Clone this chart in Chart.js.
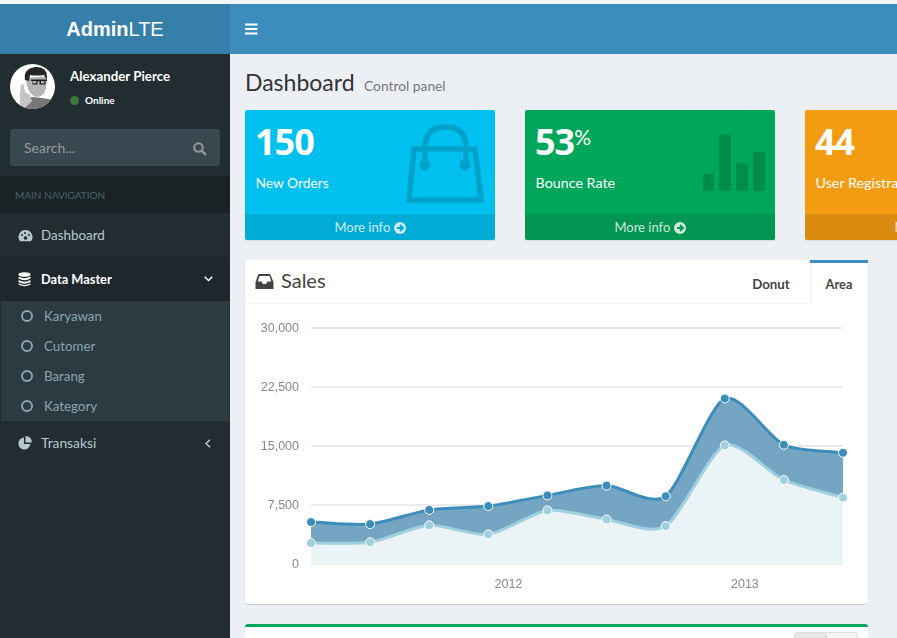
<!DOCTYPE html>
<html><head><meta charset="utf-8"><title>AdminLTE Dashboard</title>
<script src="https://cdn.jsdelivr.net/npm/chart.js@4/dist/chart.umd.min.js"></script>
<style>
html,body{margin:0;padding:0;width:897px;height:638px;overflow:hidden;background:#ecf0f5;font-family:Lato,"Noto Sans",sans-serif;}
.a{position:absolute;white-space:nowrap;}
.t{position:absolute;white-space:nowrap;line-height:20px;}
svg{position:absolute;overflow:visible;}
.card{position:absolute;top:110px;width:250px;height:130px;border-radius:2px;box-shadow:0 1px 1px rgba(0,0,0,.1);overflow:hidden;color:#fff;}
.card .foot{position:absolute;left:0;right:0;top:104px;height:26px;background:rgba(0,0,0,.1);color:rgba(255,255,255,.8);text-align:center;line-height:26px;font-size:13px;}
.card .num{position:absolute;left:10px;top:9px;font-family:"Noto Sans",sans-serif;font-size:36px;letter-spacing:-1px;font-weight:700;line-height:46px;}
.card .lab{position:absolute;left:10.500px;top:63px;font-size:13.800px;line-height:20px;}
.sub{color:#8aa4af;font-size:13.300px;}
.circ{position:absolute;left:21px;width:8px;height:8px;border:2px solid #8aa4af;border-radius:50%;}
</style></head><body>
<div class="a" style="left:0;top:0;width:897px;height:4px;background:#f4f5f6"></div>
<div class="a" style="left:0;top:4px;width:230px;height:50px;background:#367fa9"></div>
<div class="a" style="left:230px;top:4px;width:667px;height:50px;background:#3c8dbc"></div>
<div class="a" style="left:0;top:54px;width:230px;height:584px;background:#222d32"></div>
<div class="t" style="left:0;width:230px;text-align:center;top:19px;font:20px/20px 'Liberation Sans',sans-serif;color:#fff"><b>Admin</b>LTE</div>
<svg style="left:245px;top:23px" width="13" height="12"><path d="M0 1.5h12.5M0 6h12.5M0 10.500h12.500" stroke="#fff" stroke-width="2"/></svg>

<!-- user panel -->
<svg style="left:10px;top:64px" width="45" height="45" viewBox="0 0 45 45">
<clipPath id="av"><circle cx="22.500" cy="22.500" r="22.500"/></clipPath>
<circle cx="22.500" cy="22.500" r="22.500" fill="#fff"/>
<g clip-path="url(#av)">
<path d="M9 45 L14 35 L22 33 L32 34 L44 36 L44 45Z" fill="#777"/>
<path d="M10 42 L10 30 L11 21 L13.500 20 L15 28 L20 31 L22 37 L15 44Z" fill="#c4c4c4"/>
<path d="M16 14 Q17 30 26 33 Q34 33 36 24 L37 12 Z" fill="#b5b5b5"/>
<path d="M15 16 Q13 5 25 3 Q37 2 37 13 L37 16 L34 11 Q25 12 20 11 L19 17Z" fill="#262626"/>
<path d="M21 15.500h16v1.400h-1.500v3.600h-6v-3.300h-2v3.300h-5v-3.600h-1.500z" fill="#1c1c1c"/>
<path d="M23 17.200h3.300v2h-3.300zM31 17.200h3.300v2h-3.300z" fill="#c8c8c8"/>
</g></svg>
<div class="t" style="left:70px;top:66px;font-size:13.300px;font-weight:700;color:#fff">Alexander Pierce</div>
<div class="a" style="left:70px;top:96px;width:9px;height:9px;border-radius:50%;background:#3c763d"></div>
<div class="t" style="left:85px;top:90px;font-size:10px;font-weight:700;color:#fff">Online</div>

<div class="a" style="left:10px;top:129px;width:210px;height:37px;background:#374850;border-radius:3px"></div>
<div class="t" style="left:24px;top:138px;font-size:14px;color:#999">Search...</div>
<svg style="left:193px;top:142px" width="14" height="14"><circle cx="5.500" cy="5.500" r="4.300" fill="none" stroke="#999" stroke-width="2"/><path d="M8.800 8.800L13 13" stroke="#999" stroke-width="2.400"/></svg>

<div class="a" style="left:0;top:176px;width:230px;height:37px;background:#1a2226"></div>
<div class="t" style="left:15px;top:185px;font-size:10px;color:#4b646f">MAIN NAVIGATION</div>

<svg style="left:18px;top:229px" width="15" height="13" viewBox="0 0 15 13"><path d="M7.500 1A7 7 0 0 0 2 12.300L13 12.300A7 7 0 0 0 7.500 1Z" fill="#b8c7ce"/><circle cx="4" cy="6" r="1" fill="#222d32"/><circle cx="7" cy="4" r="1" fill="#222d32"/><circle cx="11" cy="6" r="1" fill="#222d32"/><circle cx="7.500" cy="9" r="1.800" fill="#222d32"/></svg>
<div class="t" style="left:41px;top:225px;font-size:13.400px;color:#b8c7ce">Dashboard</div>

<div class="a" style="left:0;top:257px;width:230px;height:44px;background:#1e282c"></div>
<svg style="left:18px;top:272px" width="13" height="15"><ellipse cx="6.500" cy="2.500" rx="6" ry="2.300" fill="#fff"/><path d="M.5 4.500Q6.500 8 12.500 4.500V6.500Q6.500 10 .5 6.500ZM.5 8Q6.500 11.500 12.500 8V10Q6.500 13.500 .5 10ZM.5 11.200Q6.500 14.700 12.500 11.200V12.500Q6.500 16 .5 12.500Z" fill="#fff"/></svg>
<div class="t" style="left:41px;top:269px;font-size:12.800px;font-weight:700;color:#fff">Data Master</div>
<svg style="left:204px;top:276px" width="9" height="6"><path d="M.7 .7L4.500 4.500L8.300 .7" fill="none" stroke="#fff" stroke-width="1.500"/></svg>

<div class="a" style="left:1px;top:301px;width:228px;height:120px;background:#2c3b41"></div>
<div class="circ" style="top:310px"></div><div class="t sub" style="left:44px;top:306px">Karyawan</div>
<div class="circ" style="top:340px"></div><div class="t sub" style="left:44px;top:336px">Cutomer</div>
<div class="circ" style="top:370px"></div><div class="t sub" style="left:44px;top:366px">Barang</div>
<div class="circ" style="top:400px"></div><div class="t sub" style="left:44px;top:396px">Kategory</div>

<svg style="left:18px;top:436px" width="14" height="14"><path d="M6 1.500A6 6 0 1 0 12.300 8H6Z" fill="#b8c7ce"/><path d="M7.500 0A6 6 0 0 1 13.800 6.500H7.500Z" fill="#b8c7ce"/></svg>
<div class="t" style="left:41px;top:433px;font-size:13.800px;color:#b8c7ce">Transaksi</div>
<svg style="left:205px;top:439px" width="6" height="9"><path d="M5 .7L1 4.500L5 8.300" fill="none" stroke="#b8c7ce" stroke-width="1.500"/></svg>

<!-- header -->
<div class="t" style="left:245px;top:67px;font-size:23px;line-height:30px;color:#333">Dashboard</div>
<div class="t" style="left:364px;top:76px;font-size:13.800px;color:#777">Control panel</div>

<!-- cards -->
<div class="card" style="left:245px;background:#00c0ef">
 <div class="num">150</div><div class="lab">New Orders</div>
 <svg style="left:161px;top:14px" width="79" height="79" viewBox="0 0 79 79"><g opacity=".15"><g fill="none" stroke="#000" stroke-width="5.500"><path d="M8 25H69L75 76H3Z"/><path d="M19 39V24Q19 3 39.500 3Q60 3 60 24V39"/></g><circle cx="19" cy="41" r="5.500" fill="#000"/><circle cx="59" cy="41" r="5.500" fill="#000"/></g></svg>
 <div class="foot">More info <svg style="display:inline;position:static;vertical-align:-2px" width="12" height="12"><circle cx="6" cy="6" r="6" fill="rgba(255,255,255,.8)"/><path d="M3 6H8.500M6 3L9 6L6 9" fill="none" stroke="#00a9d2" stroke-width="1.800"/></svg></div>
</div>
<div class="card" style="left:525px;background:#00a65a">
 <div class="num">53<span style="font-family:Lato,sans-serif;font-size:21px;font-weight:400;letter-spacing:0;vertical-align:10px;line-height:0">%</span></div><div class="lab" style="font-size:14.300px">Bounce Rate</div>
 <svg style="left:178px;top:25px" width="62" height="56"><g fill="#000" fill-opacity=".15"><rect x="0" y="39" width="11" height="17"/><rect x="16" y="0" width="12" height="56"/><rect x="33" y="28" width="12" height="28"/><rect x="50" y="17" width="12" height="39"/></g></svg>
 <div class="foot">More info <svg style="display:inline;position:static;vertical-align:-2px" width="12" height="12"><circle cx="6" cy="6" r="6" fill="rgba(255,255,255,.8)"/><path d="M3 6H8.500M6 3L9 6L6 9" fill="none" stroke="#009551" stroke-width="1.800"/></svg></div>
</div>
<div class="card" style="left:805px;background:#f39c12">
 <div class="num">44</div><div class="lab" style="font-size:14.300px">User Registrations</div>
 <div class="foot">More info <svg style="display:inline;position:static;vertical-align:-2px" width="12" height="12"><circle cx="6" cy="6" r="6" fill="rgba(255,255,255,.8)"/></svg></div>
</div>

<!-- box -->
<div class="a" style="left:245px;top:260px;width:623px;height:344px;background:#fff;border-radius:3px;box-shadow:0 1px 1px rgba(0,0,0,.15)"></div>
<div class="a" style="left:245px;top:303px;width:565px;height:1px;background:#f4f4f4"></div>
<svg style="left:255px;top:274px" width="19" height="15"><path d="M3.500 0H15L18.500 8V15H.5V8ZM4.500 2L2.800 7.500H6.500L8 10H11L12.500 7.500H16.200L14.500 2Z" fill="#444" fill-rule="evenodd"/></svg>
<div class="t" style="left:281px;top:270px;font-size:20px;color:#444">Sales</div>
<div class="a" style="left:810px;top:260px;width:58px;height:3px;background:#3c8dbc"></div>
<div class="a" style="left:810px;top:263px;width:1px;height:41px;background:#f4f4f4"></div>
<div class="t" style="left:732px;width:78px;text-align:center;top:274px;font-size:13.300px;font-weight:700;color:#444">Donut</div>
<div class="t" style="left:810px;width:58px;text-align:center;top:274px;font-size:12.800px;font-weight:700;color:#444">Area</div>

<div class="a" style="left:245px;top:304px;width:623px;height:300px"><canvas id="c" width="623" height="300" style="display:block;width:623px;height:300px"></canvas></div>

<!-- next box -->
<div class="a" style="left:245px;top:624px;width:623px;height:20px;background:#fff;border-top:3px solid #00a65a;border-radius:3px 3px 0 0;box-sizing:border-box"></div>
<div class="a" style="left:794px;top:632px;width:32px;height:12px;background:#e7e7e7;border:1px solid #ddd;box-sizing:border-box;border-radius:3px 0 0 0"></div>
<div class="a" style="left:826px;top:632px;width:32px;height:12px;background:#f4f4f4;border:1px solid #ddd;box-sizing:border-box;border-radius:0 3px 0 0"></div>

<script>
const quarters = [2011.165,2011.415,2011.665,2011.915,2012.165,2012.415,2012.665,2012.915,2013.165,2013.415];
const item1 = [2666,2778,4912,3767,6810,5670,4820,15073,10687,8432];
const stackedTop = [5332,5072,6881,7364,8724,9963,8615,21040,15147,14145];
const yTicks = [0,7500,15000,22500,30000];
const xTicks = [2012,2013];

const morrisCurve = {
  id:'morrisCurve',
  afterDatasetsUpdate(chart){
    chart.getSortedVisibleDatasetMetas().forEach(meta=>{
      const p = meta.data, n = p.length;
      const grad = i => i===0 ? (p[1].y-p[0].y)/(p[1].x-p[0].x)
        : i===n-1 ? (p[n-1].y-p[n-2].y)/(p[n-1].x-p[n-2].x)
        : (p[i+1].y-p[i-1].y)/(p[i+1].x-p[i-1].x);
      for(let i=0;i<n;i++){
        const g = grad(i);
        const inDx = i>0 ? (p[i].x-p[i-1].x)/4 : 0;
        const outDx = i<n-1 ? (p[i+1].x-p[i].x)/4 : 0;
        p[i].cp1x = p[i].x-inDx;  p[i].cp1y = p[i].y-inDx*g;
        p[i].cp2x = p[i].x+outDx; p[i].cp2y = p[i].y+outDx*g;
      }
      meta.dataset._pointsUpdated = true;
    });
  }
};

new Chart(document.getElementById('c'),{
  type:'line',
  plugins:[morrisCurve],
  data:{datasets:[
    {label:'Item 1',order:1,data:quarters.map((x,i)=>({x,y:item1[i]})),borderColor:'#a0d0e0',backgroundColor:'#eaf3f6',fill:'origin',borderWidth:3,tension:.25,
     pointRadius:4.500,pointBackgroundColor:'#a0d0e0',pointBorderColor:'#fff',pointBorderWidth:1,clip:false},
    {label:'Item 2',order:2,data:quarters.map((x,i)=>({x,y:stackedTop[i]})),borderColor:'#3c8dbc',backgroundColor:'#74a5c2',fill:'origin',borderWidth:3,tension:.25,
     pointRadius:4.500,pointBackgroundColor:'#3c8dbc',pointBorderColor:'#fff',pointBorderWidth:1,clip:false}
  ]},
  options:{
    responsive:false,animation:false,devicePixelRatio:1,
    layout:{padding:{top:24,right:25,left:0,bottom:0}},
    plugins:{legend:{display:false},tooltip:{enabled:false}},
    scales:{
      x:{type:'linear',min:quarters[0],max:quarters[quarters.length-1],
        grid:{display:false},border:{display:false},
        afterBuildTicks(s){s.ticks=xTicks.map(value=>({value}));},
        afterFit(s){s.height=40;},
        ticks:{color:'#888',padding:5,maxRotation:0,font:{family:'"Liberation Sans",sans-serif',size:12.500},callback:v=>String(v)}},
      y:{min:0,max:30000,
        grid:{color:'#ebebeb',lineWidth:2,drawTicks:false},border:{display:false},
        afterBuildTicks(s){s.ticks=yTicks.map(value=>({value}));},
        afterFit(s){s.width=66;},
        ticks:{color:'#888',padding:12,labelOffset:1,font:{family:'"Liberation Sans",sans-serif',size:12.500},callback:v=>v.toLocaleString('en-US')}}
    }
  }
});
</script>
</body></html>
